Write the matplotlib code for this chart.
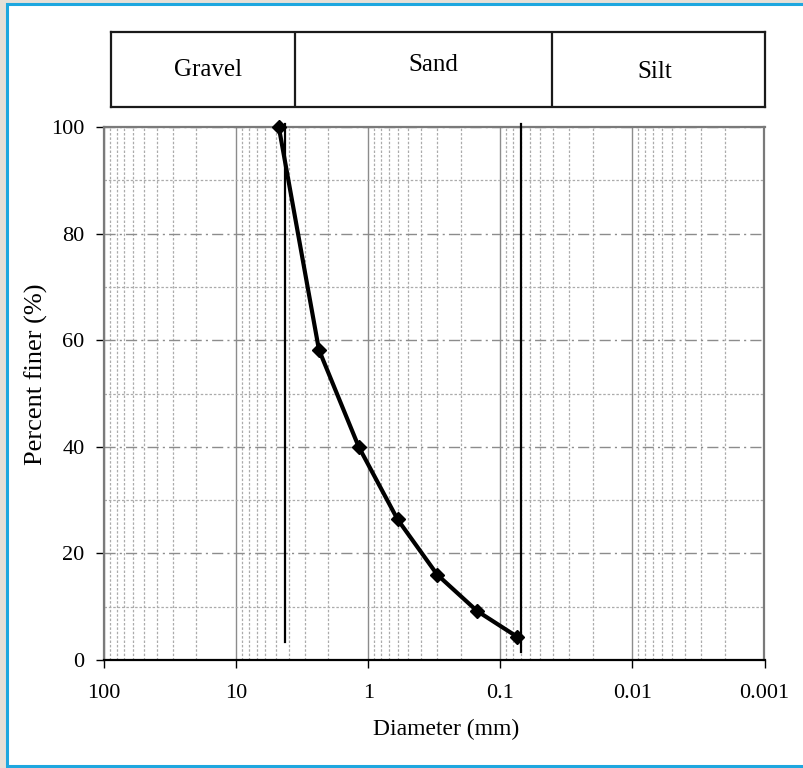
import matplotlib

matplotlib.use("Agg")
import matplotlib.pyplot as plt
from matplotlib.patches import Rectangle
from matplotlib.ticker import FixedLocator, LogLocator, NullFormatter

# Curva granulometrica (tamiz -> % que pasa)
diameter_mm = [4.75, 2.36, 1.18, 0.6, 0.3, 0.15, 0.075]
percent_finer = [100, 58.2, 40.0, 26.4, 16.0, 9.2, 4.4]

# Limites grava/arena y arena/limo
boundary_mm = [4.24, 0.070]
boundary_bottom = [3.4, 1.5]

x_ticks = [100, 10, 1, 0.1, 0.01, 0.001]
x_tick_labels = ["100", "10", "1", "0.1", "0.01", "0.001"]
y_ticks = [0, 20, 40, 60, 80, 100]

soil_classes = ["Gravel", "Sand", "Silt"]

SERIF = "Liberation Serif"
W, H = 804, 768

fig = plt.figure(figsize=(W / 100, H / 100), dpi=100)
fig.patch.set_facecolor("#e6e0d7")
fig.patches.append(Rectangle((7 / W, 1 - 766 / H), 1.0, (766 - 4) / H,
                             transform=fig.transFigure, facecolor="white",
                             edgecolor="#1ea7df", linewidth=2.2, zorder=-10))


def box(x0, y0, x1, y1):
    return [x0 / W, 1 - y1 / H, (x1 - x0) / W, (y1 - y0) / H]


# Grafico principal
ax = fig.add_axes(box(104, 127, 764.5, 660))
ax.set_xscale("log")
ax.set_xlim(100, 0.001)
ax.set_ylim(0, 100)

ax.xaxis.set_major_locator(FixedLocator(x_ticks))
ax.set_xticklabels(x_tick_labels)
ax.xaxis.set_minor_locator(LogLocator(base=10, subs=range(2, 10), numticks=20))
ax.xaxis.set_minor_formatter(NullFormatter())
ax.set_yticks(y_ticks)
ax.yaxis.set_minor_locator(FixedLocator([10, 30, 50, 70, 90]))

ax.grid(which="major", axis="x", color="#8c8c8c", linestyle="-", linewidth=1.0)
ax.grid(which="minor", axis="x", color="#ababab", linestyle=(0, (2, 1.5)), linewidth=0.9)
ax.grid(which="major", axis="y", color="#8c8c8c", linestyle=(0, (8, 3, 1.5, 3)), linewidth=1.0)
ax.grid(which="minor", axis="y", color="#ababab", linestyle=(0, (2, 1.5)), linewidth=0.9)
ax.set_axisbelow(True)

ax.tick_params(which="major", direction="out", length=6, width=1.0, color="black",
               labelsize=16)
ax.tick_params(axis="x", which="major", pad=11)
ax.tick_params(axis="y", which="major", pad=8)
ax.tick_params(which="minor", length=0)
for lab in ax.get_xticklabels() + ax.get_yticklabels():
    lab.set_fontfamily(SERIF)

for side in ("left", "top", "right"):
    ax.spines[side].set_color("#7a7a7a")
    ax.spines[side].set_linewidth(1.6)
ax.spines["bottom"].set_color("black")
ax.spines["bottom"].set_linewidth(1.6)

for d, y0 in zip(boundary_mm, boundary_bottom):
    ax.plot([d, d], [y0, 100.5], color="black", linewidth=1.6, clip_on=False, zorder=3)

ax.plot(diameter_mm, percent_finer, color="black", linewidth=3.0, marker="D",
        markersize=7.5, clip_on=False, zorder=4)

ax.set_xlabel("Diameter (mm)", fontfamily=SERIF, fontsize=17)
ax.xaxis.set_label_coords(0.518, -0.11)
ax.set_ylabel("Percent finer (%)", fontfamily=SERIF, fontsize=19)
ax.yaxis.set_label_coords(-0.085, 0.537)

# Cabecera con la clasificacion del suelo
hx = fig.add_axes(box(111, 32, 765, 107))
hx.set_xlim(111, 765)
hx.set_ylim(107, 32)
hx.set_xticks([])
hx.set_yticks([])
for s in hx.spines.values():
    s.set_linewidth(1.6)
    s.set_color("#1a1a1a")
for xd in (295, 552):
    hx.axvline(xd, color="#1a1a1a", linewidth=1.6)
for name, (tx, ty) in zip(soil_classes, [(208, 70), (433, 65), (655, 72)]):
    hx.text(tx, ty, name, ha="center", va="center", fontfamily=SERIF, fontsize=18)

fig.savefig("out.png", dpi=100, facecolor=fig.get_facecolor())
